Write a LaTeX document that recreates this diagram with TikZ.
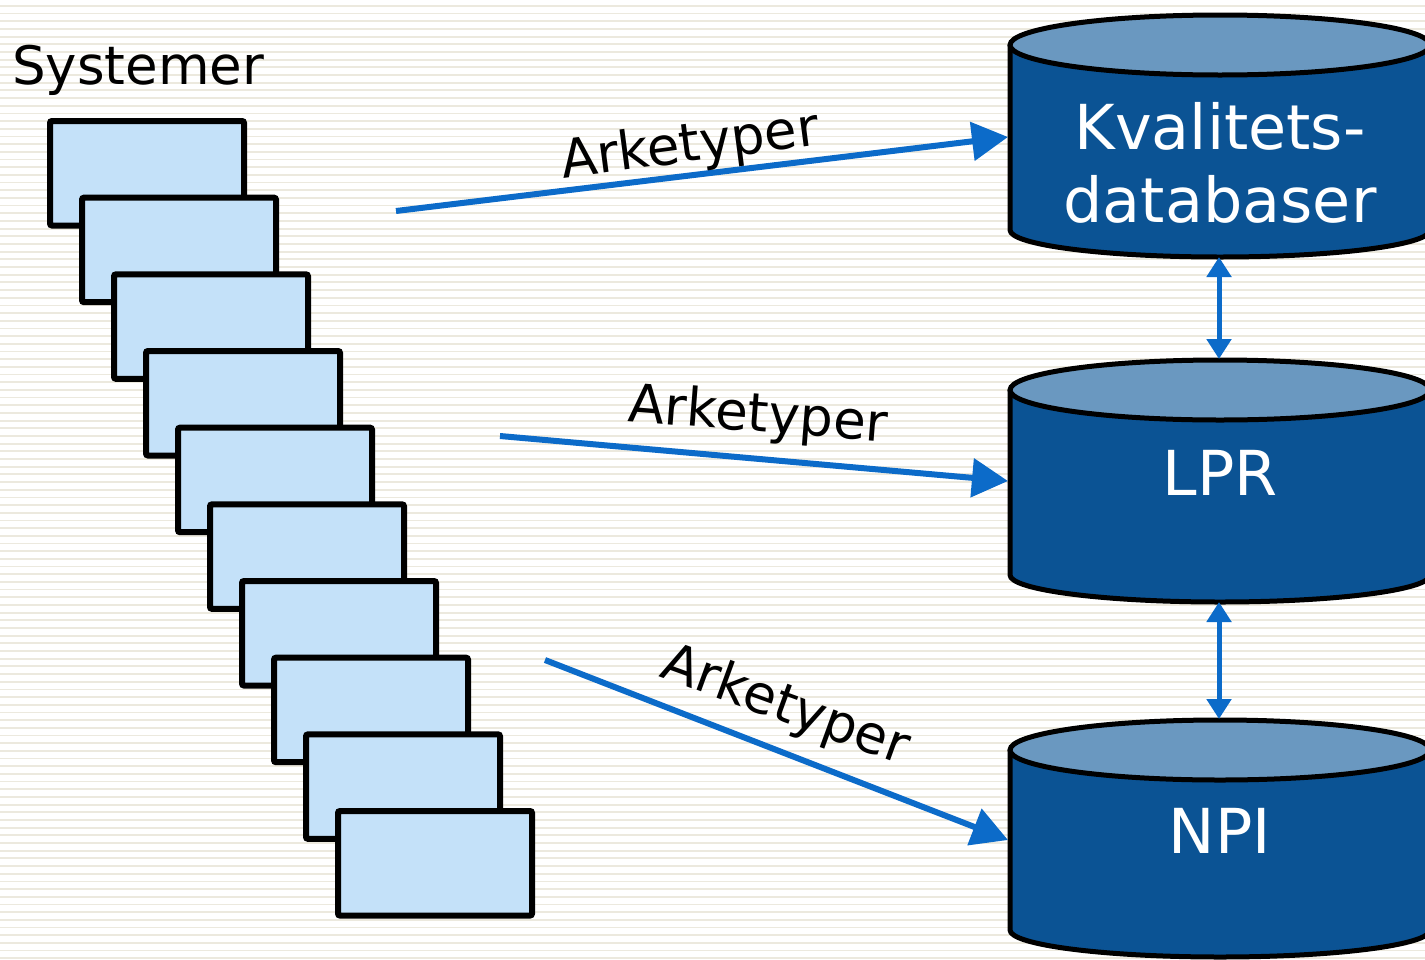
\documentclass[tikz,border=0pt]{standalone}
\usepackage{fontspec}
\setmainfont{DejaVu Sans}
\usetikzlibrary{arrows.meta}
\definecolor{stripe}{HTML}{ECE9DE}
\definecolor{boxfill}{HTML}{C4E1F9}
\definecolor{dbbody}{HTML}{0B5394}
\definecolor{dbtop}{HTML}{6A98C0}
\definecolor{arrowblue}{HTML}{0C6BC9}
\newcommand\mycyl[2]{%
  \path[fill=dbbody, draw=black, line width=5pt] (1010,-#1) -- (1010,-#2)
    arc[start angle=180, end angle=360, x radius=210, y radius=27] -- (1430,-#1);
  \path[fill=dbtop, draw=black, line width=5pt] (1220,-#1) ellipse[x radius=210, y radius=30];
}
\tikzset{
  sysbox/.style={draw=black, fill=boxfill, line width=6pt, rounded corners=2pt,
    minimum width=194pt, minimum height=104.5pt, inner sep=0pt, outer sep=0pt, anchor=north west},
  dbtext/.style={text=white, align=center, inner sep=0pt, font={\fontsize{62}{73}\selectfont}},
  lbl/.style={text=black, inner sep=0pt, font={\fontsize{53}{63}\selectfont}},
  bigarrow/.style={draw=arrowblue, line width=6pt, -{Triangle[length=36pt,width=38pt]}},
  dblarrow/.style={draw=arrowblue, line width=5pt, {Triangle[length=20pt,width=24pt]}-{Triangle[length=20pt,width=24pt]}}
}
\begin{document}
\begin{tikzpicture}[x=1pt,y=1pt]
\useasboundingbox (0,0) rectangle (1425,-959);
\fill[white] (0,0) rectangle (1425,-959);
\foreach \i in {0,...,124}
  \draw[stripe, line width=1.8pt] (0,{-5.9-7.68*\i}) -- (1425,{-5.9-7.68*\i});

% title
\node[lbl, anchor=base west] (sys) at (12,-84) {Systemer};

% system boxes
\foreach \i in {0,...,9}
  \node[sysbox] (s\i) at ({50+32*\i},{-121-76.67*\i}) {};

% databases
\mycyl{45}{230}
\mycyl{390}{575}
\mycyl{750}{930}
\node[dbtext] (kval) at (1220,-163) {Kvalitets-\\databaser};
\node[dbtext] (lpr) at (1220,-472.5) {LPR};
\node[dbtext] (npi) at (1220,-830.5) {NPI};

% connector end points
\coordinate (a1s) at (396,-211);
\coordinate (a1e) at (1008,-137);
\coordinate (a2s) at (500,-436);
\coordinate (a2e) at (1008,-481);
\coordinate (a3s) at (545,-660);
\coordinate (a3e) at (1008,-840);
\coordinate (kvalbot) at (1219,-257);
\coordinate (lprtop) at (1219,-359);
\coordinate (lprbot) at (1219,-602);
\coordinate (npitop) at (1219,-719);

\draw[bigarrow] (a1s) -- (a1e);
\draw[bigarrow] (a2s) -- (a2e);
\draw[bigarrow] (a3s) -- (a3e);
\draw[dblarrow] (kvalbot) -- (lprtop);
\draw[dblarrow] (lprbot) -- (npitop);

% labels
\node[lbl, rotate=7.5] (l1) at (690,-147) {Arketyper};
\node[lbl, rotate=-4.5] (l2) at (758,-417) {Arketyper};
\node[lbl, rotate=-20] (l3) at (785,-707) {Arketyper};
\end{tikzpicture}
\end{document}
